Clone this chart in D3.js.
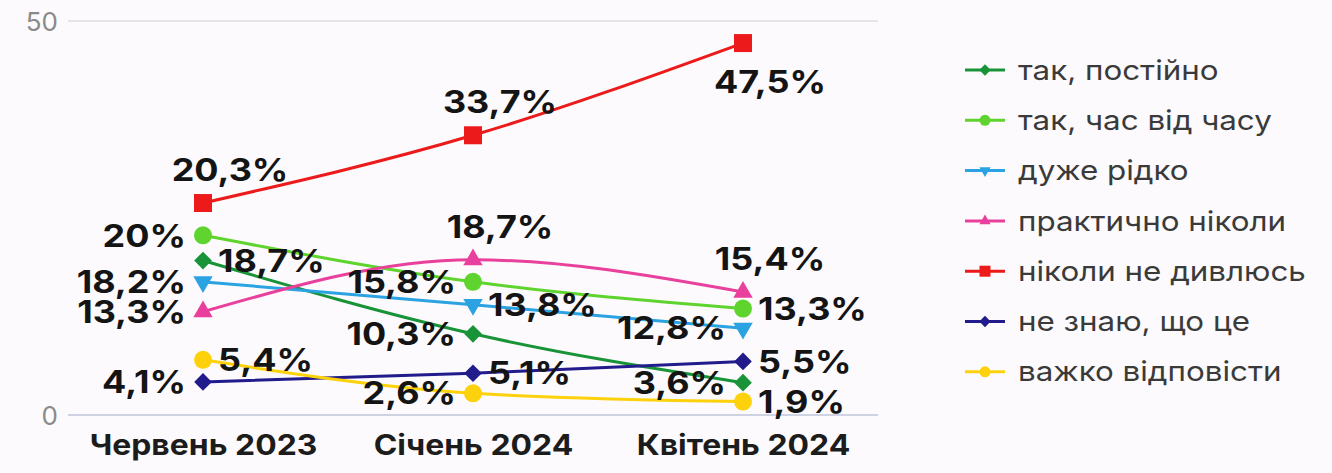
<!DOCTYPE html>
<html>
<head>
<meta charset="utf-8">
<script src="https://cdn.jsdelivr.net/npm/d3@7"></script>
<style>
  html, body { margin: 0; padding: 0; background: #fcfafc; }
  svg { display: block; }
  text { font-family: Inter, "Noto Sans", sans-serif; }
</style>
</head>
<body>
<div id="chart"></div>
<script>
// Категорії (хвилі опитування)
const categories = ['Червень 2023', 'Січень 2024', 'Квітень 2024'];

// Назви серій (легенда)
const seriesNames = ['так, постійно', 'так, час від часу', 'дуже рідко', 'практично ніколи',
  'ніколи не дивлюсь', 'не знаю, що це', 'важко відповісти'];

// Значення, як їх розміщено на графіку
const postiyno = [19.6, 10.3, 4.1];
const chasVidChasu = [22.8, 16.9, 13.5];
const duzheRidko = [16.9, 14.0, 11.0];
const praktychnoNikoly = [13.1, 19.7, 15.6];
const nikolyNeDyvlyus = [26.9, 35.5, 47.2];
const neZnayu = [4.2, 5.3, 6.8];
const vazhko = [7.0, 2.75, 1.7];

// Підписи значень
const postiynoLabels = ['18,7%', '10,3%', '3,6%'];
const chasVidChasuLabels = ['20%', '15,8%', '13,3%'];
const duzheRidkoLabels = ['18,2%', '13,8%', '12,8%'];
const praktychnoNikolyLabels = ['13,3%', '18,7%', '15,4%'];
const nikolyNeDyvlyusLabels = ['20,3%', '33,7%', '47,5%'];
const neZnayuLabels = ['4,1%', '5,1%', '5,5%'];
const vazhkoLabels = ['5,4%', '2,6%', '1,9%'];

// Розташування підписів: 'l' ліворуч, 'r' праворуч, 't' зверху, 'b' знизу
const postiynoPos = ['r', 'l', 'l'];
const chasVidChasuPos = ['l', 'l', 'r'];
const duzheRidkoPos = ['l', 'r', 'l'];
const praktychnoNikolyPos = ['l', 't', 't'];
const nikolyNeDyvlyusPos = ['t', 't', 'b'];
const neZnayuPos = ['l', 'r', 'r'];
const vazhkoPos = ['r', 'l', 'r'];

const yTicks = [0, 50];

const colors = ['#189338', '#5fd42e', '#2ba2e2', '#e8409c', '#ec1a1a', '#211b8c', '#fdd20c'];

const series = [
  { name: seriesNames[0], values: postiyno, labels: postiynoLabels, pos: postiynoPos, symbol: 'diamond' },
  { name: seriesNames[1], values: chasVidChasu, labels: chasVidChasuLabels, pos: chasVidChasuPos, symbol: 'circle' },
  { name: seriesNames[2], values: duzheRidko, labels: duzheRidkoLabels, pos: duzheRidkoPos, symbol: 'triDown' },
  { name: seriesNames[3], values: praktychnoNikoly, labels: praktychnoNikolyLabels, pos: praktychnoNikolyPos, symbol: 'triUp' },
  { name: seriesNames[4], values: nikolyNeDyvlyus, labels: nikolyNeDyvlyusLabels, pos: nikolyNeDyvlyusPos, symbol: 'square' },
  { name: seriesNames[5], values: neZnayu, labels: neZnayuLabels, pos: neZnayuPos, symbol: 'diamond' },
  { name: seriesNames[6], values: vazhko, labels: vazhkoLabels, pos: vazhkoPos, symbol: 'circle' }
];

const width = 1332;
const height = 473;
const margin = { top: 21, right: 454, bottom: 58, left: 68 };
const stretch = 1.16; // шрифт на оригіналі ширший

const svg = d3.select('#chart')
  .append('svg')
  .attr('width', width)
  .attr('height', height);

const xScale = d3.scalePoint()
  .domain(categories)
  .range([margin.left, width - margin.right])
  .padding(0.5);

const yScale = d3.scaleLinear()
  .domain([0, 50])
  .range([height - margin.bottom, margin.top]);

// Сітка
svg.append('g')
  .selectAll('line')
  .data(yTicks)
  .enter()
  .append('line')
  .attr('x1', margin.left)
  .attr('x2', width - margin.right)
  .attr('y1', d => yScale(d))
  .attr('y2', d => yScale(d))
  .attr('stroke', d => d === 0 ? '#cfd2e2' : '#e6e4e6')
  .attr('stroke-width', 2);

// Вісь Y
const yAxis = svg.append('g')
  .attr('transform', `translate(${margin.left},0)`)
  .call(d3.axisLeft(yScale).tickValues(yTicks).tickSize(0).tickPadding(10));
yAxis.select('.domain').remove();
yAxis.selectAll('text')
  .attr('fill', '#8a8a8a')
  .attr('font-size', 26)
  .attr('dy', '0.36em');

// Вісь X
const xAxis = svg.append('g')
  .attr('transform', `translate(0,${height - margin.bottom})`)
  .call(d3.axisBottom(xScale).tickSize(0).tickPadding(22));
xAxis.select('.domain').remove();
xAxis.selectAll('text')
  .attr('fill', '#1c1c1c')
  .attr('font-size', 28.5)
  .attr('font-weight', 700)
  .attr('dy', '0.62em')
  .attr('transform', `scale(${stretch - 0.04},1)`);

function symbolPath(type, size) {
  if (type === 'square' || type === 'diamond') return d3.symbol(d3.symbolSquare, size * size)();
  if (type === 'circle') return d3.symbol(d3.symbolCircle, Math.PI * size * size / 4)();
  return d3.symbol(d3.symbolTriangle, size * size * 0.45)();
}

function symbolRotate(type) {
  if (type === 'triDown') return ' rotate(180)';
  if (type === 'diamond') return ' rotate(45)';
  return '';
}

const line = d3.line()
  .x((d, i) => xScale(categories[i]))
  .y(d => yScale(d))
  .curve(d3.curveMonotoneX);

const plot = svg.append('g');

series.forEach((s, k) => {
  plot.append('path')
    .attr('d', line(s.values))
    .attr('fill', 'none')
    .attr('stroke', colors[k])
    .attr('stroke-width', 3);
});

series.forEach((s, k) => {
  const sizes = { square: 18, circle: 18, diamond: 12.5, triUp: 19, triDown: 19 };
  plot.selectAll(null)
    .data(s.values)
    .enter()
    .append('path')
    .attr('d', symbolPath(s.symbol, sizes[s.symbol]))
    .attr('transform', (d, i) => `translate(${xScale(categories[i])},${yScale(d)})` + symbolRotate(s.symbol))
    .attr('fill', colors[k]);
});

// Підписи значень
series.forEach((s, k) => {
  plot.selectAll(null)
    .data(s.values)
    .enter()
    .append('text')
    .attr('transform', (d, i) => {
      let x = xScale(categories[i]);
      let y = yScale(d);
      if (s.pos[i] === 'l') x -= 17;
      else if (s.pos[i] === 'r') x += 15;
      else x += 27;
      if (s.pos[i] === 't') y -= 33;
      if (s.pos[i] === 'b') y += 39;
      return `translate(${x},${y}) scale(${stretch},1)`;
    })
    .attr('dy', '0.36em')
    .attr('text-anchor', (d, i) => s.pos[i] === 'l' ? 'end' : s.pos[i] === 'r' ? 'start' : 'middle')
    .attr('font-size', 31)
    .attr('font-weight', 700)
    .attr('fill', '#141414')
    .text((d, i) => s.labels[i]);
});

// Легенда
const legend = svg.append('g')
  .attr('transform', 'translate(965,70)');

const legendItems = legend.selectAll('g')
  .data(series)
  .enter()
  .append('g')
  .attr('transform', (d, i) => `translate(0,${i * 50.3})`);

legendItems.append('line')
  .attr('x1', 0)
  .attr('x2', 40)
  .attr('stroke', (d, i) => colors[i])
  .attr('stroke-width', 3);

legendItems.append('path')
  .attr('d', d => symbolPath(d.symbol, d.symbol === 'diamond' ? 8 : 11))
  .attr('transform', d => 'translate(20,0)' + symbolRotate(d.symbol))
  .attr('fill', (d, i) => colors[i]);

legendItems.append('text')
  .attr('transform', `translate(53,0) scale(${stretch - 0.02},1)`)
  .attr('dy', '0.35em')
  .attr('font-size', 27.5)
  .attr('fill', '#3a3a3a')
  .text(d => d.name);
</script>
</body>
</html>
